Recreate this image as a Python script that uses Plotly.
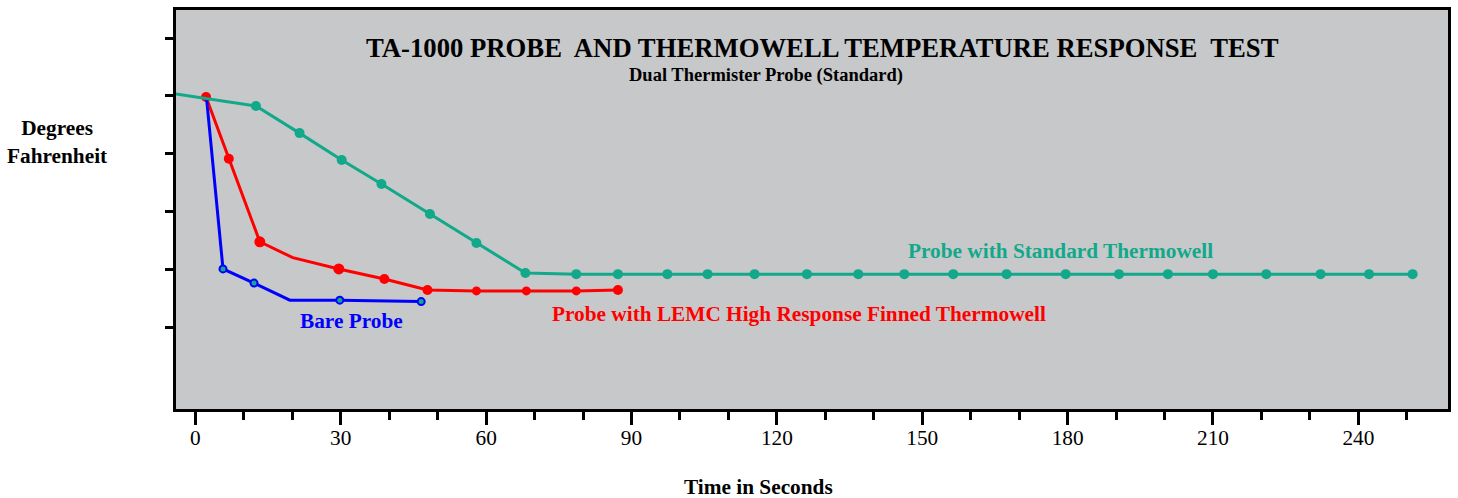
import plotly.graph_objects as go

# ---- data (time in seconds, temperature in degrees F on an unlabeled scale) ----
green_t = [-4.0, 12.5, 21.5, 30.2, 38.4, 48.4, 58.0, 68.1, 78.6, 87.2, 97.4, 105.7,
           115.4, 126.2, 136.8, 146.3, 156.4, 167.4, 179.6, 190.6, 200.7, 210.0,
           221.0, 232.2, 242.2, 251.2]
green_v = [120.6, 116.5, 107.1, 97.8, 89.5, 79.1, 69.1, 58.7, 58.3, 58.3, 58.3, 58.3,
           58.3, 58.3, 58.3, 58.3, 58.3, 58.3, 58.3, 58.3, 58.3, 58.3,
           58.3, 58.3, 58.3, 58.3]

red_t = [2.2, 6.9, 13.3, 20.1, 29.6, 39.0, 47.9, 58.0, 68.3, 78.6, 87.2]
red_v = [119.6, 98.2, 69.5, 64.0, 60.1, 56.6, 52.8, 52.5, 52.5, 52.5, 52.8]

blue_t = [2.3, 5.7, 12.1, 19.5, 29.8, 46.6]
blue_v = [119.2, 60.1, 55.2, 49.3, 49.3, 48.8]

x_range = [-4.0, 258.5]
y_range = [11.63, 149.7]
y_ticks = [40, 60, 80, 100, 120, 140]

title_text = "TA-1000 PROBE  AND THERMOWELL TEMPERATURE RESPONSE  TEST"
subtitle_text = "Dual Thermister Probe (Standard)"
green_label = "Probe with Standard Thermowell"
red_label = "Probe with LEMC High Response Finned Thermowell"
blue_label = "Bare Probe"
y_label = "Degrees<br>Fahrenheit"
x_label = "Time in Seconds"

# ---- styles ----
GREEN = "#12a88a"
RED = "#ff0000"
BLUE = "#0000ff"
FONT = "Liberation Serif"

green_sizes = [0] + [10] * (len(green_t) - 1)
red_sizes = [10, 10, 11, 0, 11, 10, 10, 9, 9, 9, 10]
blue_sizes = [0, 7, 7, 0, 7, 7]

fig = go.Figure()
fig.add_trace(go.Scatter(x=red_t, y=red_v, mode="lines+markers",
                         line=dict(color=RED, width=3),
                         marker=dict(color=RED, size=red_sizes, opacity=1,
                                     line=dict(width=0)),
                         showlegend=False, cliponaxis=True, hoverinfo="skip"))
fig.add_trace(go.Scatter(x=blue_t, y=blue_v, mode="lines+markers",
                         line=dict(color=BLUE, width=3),
                         marker=dict(color=GREEN, size=blue_sizes, opacity=1,
                                     line=dict(color=BLUE, width=2)),
                         showlegend=False, cliponaxis=True, hoverinfo="skip"))
fig.add_trace(go.Scatter(x=green_t, y=green_v, mode="lines+markers",
                         line=dict(color=GREEN, width=3),
                         marker=dict(color=GREEN, size=green_sizes, opacity=1,
                                     line=dict(width=0)),
                         showlegend=False, cliponaxis=True, hoverinfo="skip"))

fig.update_layout(
    width=1458, height=498,
    margin=dict(l=176, r=7, t=10, b=89),
    paper_bgcolor="white",
    plot_bgcolor="#c7c8ca",
    font=dict(family=FONT, color="black"),
    xaxis=dict(range=x_range, tick0=0, dtick=30, ticks="outside", ticklen=13,
               tickwidth=2.5, tickcolor="black", ticklabelstandoff=-5,
               minor=dict(dtick=10, tick0=0, ticks="outside", ticklen=8,
                          tickwidth=2.5, tickcolor="black"),
               showline=True, mirror=True, linecolor="black", linewidth=2.5,
               showgrid=False, zeroline=False,
               tickfont=dict(family=FONT, size=21.3, color="black")),
    yaxis=dict(range=y_range, tickvals=y_ticks, ticks="outside", ticklen=8,
               tickwidth=2.5, tickcolor="black", showticklabels=False,
               showline=True, mirror=True, linecolor="black", linewidth=2.5,
               showgrid=False, zeroline=False),
)

def ann(text, x, y, size, color="black"):
    fig.add_annotation(text="<b>%s</b>" % text, x=x, y=y, xref="paper", yref="paper",
                       showarrow=False, xanchor="center", yanchor="middle",
                       font=dict(family=FONT, size=size, color=color))

ann(title_text, 0.508, 0.905, 26.7)
ann(subtitle_text, 0.4635, 0.837, 18.5)
ann(green_label, 0.695, 0.396, 21.3, GREEN)
ann(red_label, 0.4894, 0.238, 21.3, RED)
ann(blue_label, 0.138, 0.2206, 21.3, BLUE)
ann(y_label, -0.0933, 0.670, 21.3)
ann(x_label, 0.458, -0.195, 21.3)

fig.write_html("out.html", config={"displayModeBar": False},
               post_script="document.body.style.margin='0';document.body.style.padding='0';")
